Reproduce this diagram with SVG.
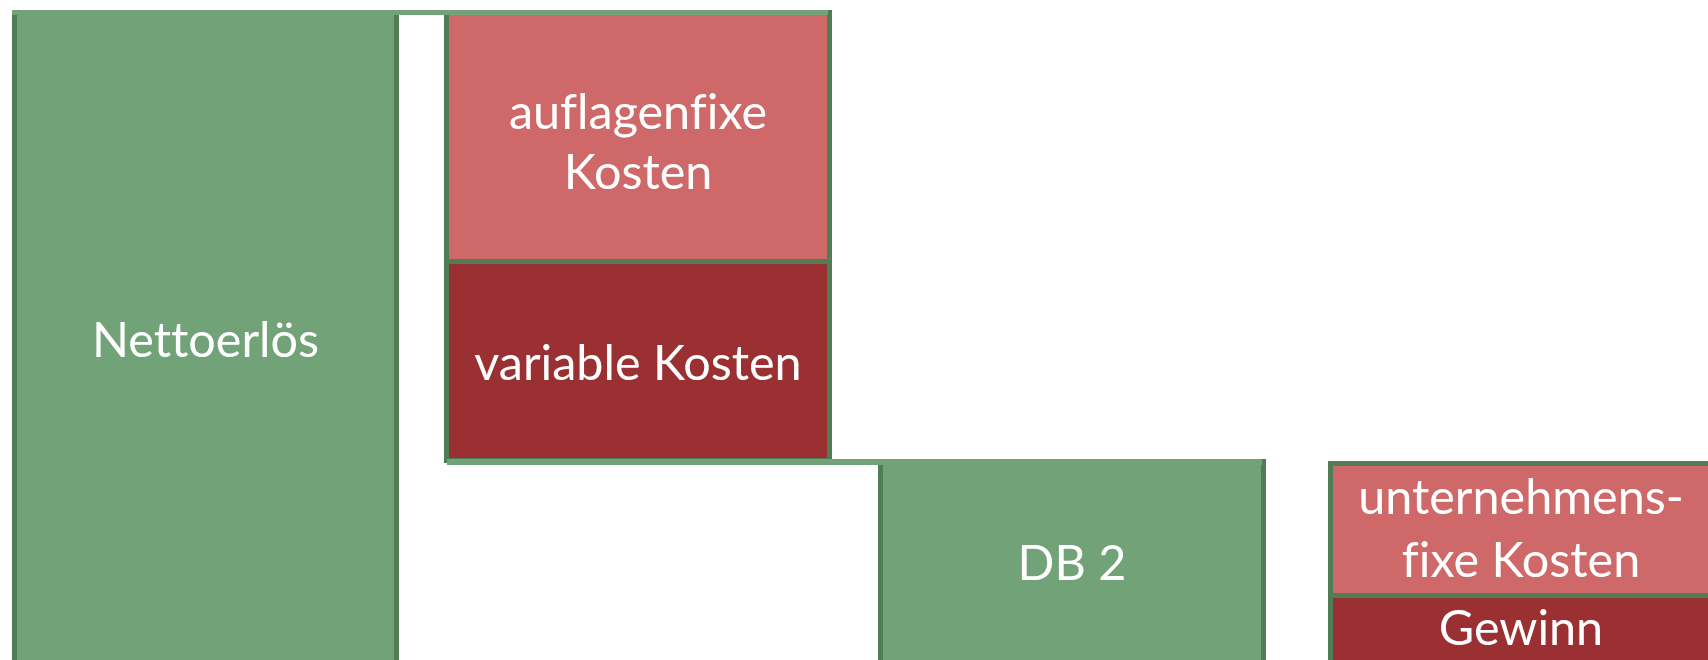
<svg xmlns="http://www.w3.org/2000/svg" width="1708" height="660" viewBox="0 0 1708 660">
<style>
.g{fill:#72A378;stroke:#507D55;stroke-width:5}
.lr{fill:#CF6868;stroke:#507D55;stroke-width:5}
.dr{fill:#9B3032;stroke:#507D55;stroke-width:5}
.c{fill:#72A378}
text{font-family:Lato,"Open Sans",sans-serif;font-size:48.5px;fill:#FFFFFF;text-anchor:middle;font-variant-ligatures:none}
</style>
<rect width="1708" height="660" fill="#FFFFFF"/>
<g id="nettoerloes">
<rect class="g" x="14.5" y="12.5" width="382" height="700"/>
<text x="205.5" y="357">Nettoerlös</text>
</g>
<g id="auflagenfixe">
<rect class="lr" x="446.5" y="12.5" width="383" height="249"/>
<text x="638" y="128.5">auflagenfixe</text>
<text x="638" y="188.5">Kosten</text>
</g>
<g id="variable">
<rect class="dr" x="446.5" y="261.5" width="383" height="199"/>
<text x="638" y="380">variable Kosten</text>
</g>
<g id="db2">
<rect class="g" x="880.5" y="461.5" width="383" height="300"/>
<text x="1072" y="580">DB 2</text>
</g>
<g id="unternehmensfixe">
<rect class="lr" x="1330.5" y="463.5" width="383" height="132"/>
<text x="1521" y="514">unternehmens-</text>
<text x="1521" y="577">fixe Kosten</text>
</g>
<g id="gewinn">
<rect class="dr" x="1330.5" y="595.5" width="383" height="200"/>
<text x="1521" y="645">Gewinn</text>
</g>
<g id="connectors">
<rect class="c" x="12" y="10" width="816" height="5"/>
<rect class="c" x="447" y="459" width="815" height="6"/>
</g>
</svg>
